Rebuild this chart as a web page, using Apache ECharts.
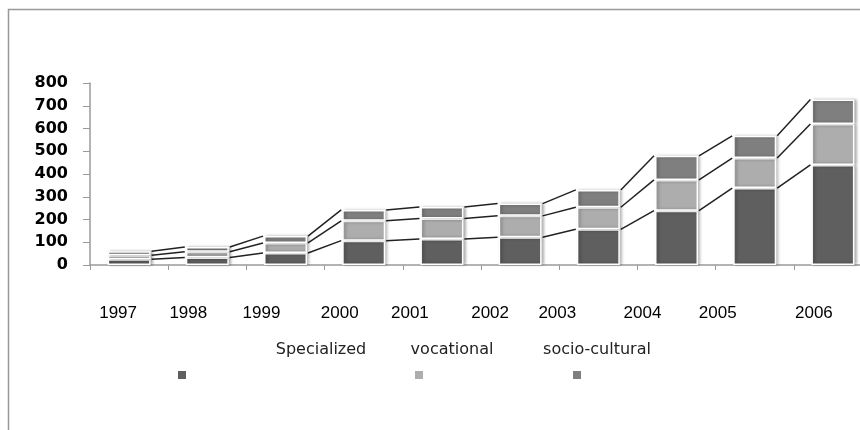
<!DOCTYPE html>
<html>
<head>
<meta charset="utf-8">
<script src="https://cdn.jsdelivr.net/npm/echarts@6/dist/echarts.min.js"></script>
<style>
html,body{margin:0;padding:0;background:#fff;}
#chart{width:860px;height:430px;}
</style>
</head>
<body>
<div id="chart"></div>
<script>
// ---- data ----
const years = ['1997','1998','1999','2000','2001','2002','2003','2004','2005','2006'];
const specialized   = [25, 33, 53, 107, 114, 122, 157, 239, 338, 440];
const vocational    = [18, 25, 44,  87,  90,  94,  97, 135, 132, 180];
const socioCultural = [17, 21, 30,  48,  51,  54,  76, 106,  98, 107];
const seriesNames = ['Specialized', 'vocational', 'socio-cultural'];
const yMin = 0, yMax = 800, yStep = 100;

// ---- style ----
const colors = ['#5f5f5f', '#adadad', '#7f7f7f'];
const labelShift = [11, 19, 24, 24, 32, 30, 41, 34, 37, 19]; // px shift of year labels to the left

const cum1 = specialized.map(v => v);
const cum2 = specialized.map((v, i) => v + vocational[i]);
const cum3 = cum2.map((v, i) => v + socioCultural[i]);
const seriesLineData = [];
for (let i = 0; i < years.length - 1; i++) {
  seriesLineData.push([i, cum1[i], cum1[i+1], cum2[i], cum2[i+1], cum3[i], cum3[i+1]]);
}
const BAR_FRAC = 0.55;

const rich = {};
labelShift.forEach((s, i) => { rich['p' + i] = {padding: [0, 2 * s, 0, 0], fontFamily: 'Liberation Sans', fontSize: 17, color: '#000'}; });

const barStyle = c => ({
  color: c, borderColor: '#ffffff', borderWidth: 1.5,
  shadowColor: 'rgba(0,0,0,0.3)', shadowBlur: 3, shadowOffsetX: 2
});

const legendFont = '16px DejaVu Sans, sans-serif';

const chart = echarts.init(document.getElementById('chart'), null, {renderer: 'canvas'});
chart.setOption({
  animation: false,
  backgroundColor: '#fff',
  grid: {left: 90, width: 782, top: 83, bottom: 165, containLabel: false, outerBoundsMode: 'none'},
  xAxis: {
    type: 'category', data: years, boundaryGap: true,
    axisLine: {show: true, lineStyle: {color: '#9a9a9a', width: 1.5}},
    axisTick: {show: true, length: 5, alignWithLabel: false, lineStyle: {color: '#9a9a9a'}},
    axisLabel: {
      interval: 0, margin: 40,
      formatter: (v, i) => '{p' + i + '|' + v + '}',
      rich: rich
    },
    splitLine: {show: false}
  },
  yAxis: {
    type: 'value', min: yMin, max: yMax, interval: yStep,
    axisLine: {show: true, lineStyle: {color: '#9a9a9a', width: 1.5}},
    axisTick: {show: true, length: 7, lineStyle: {color: '#9a9a9a'}},
    axisLabel: {margin: 22, fontFamily: 'DejaVu Sans', fontWeight: 'bold', fontSize: 16, color: '#000'},
    splitLine: {show: false}
  },
  legend: [
    {data: [seriesNames[0]], left: 176, top: 369},
    {data: [seriesNames[1]], left: 413, top: 369},
    {data: [seriesNames[2]], left: 571, top: 369}
  ].map(l => Object.assign(l, {
    icon: 'rect', itemWidth: 10, itemHeight: 10, formatter: () => '', selectedMode: false,
    padding: 0, textStyle: {fontSize: 1}
  })),
  graphic: [
    {type: 'rect', left: 6, top: 7, shape: {x: 0, y: 0, width: 1000, height: 1000},
     style: {fill: 'none', stroke: '#999', lineWidth: 1.5}, silent: true},
    {type: 'text', x: 321, y: 350, style: {text: seriesNames[0], fill: '#222', font: legendFont, textAlign: 'center', textVerticalAlign: 'middle'}},
    {type: 'text', x: 452, y: 350, style: {text: seriesNames[1], fill: '#222', font: legendFont, textAlign: 'center', textVerticalAlign: 'middle'}},
    {type: 'text', x: 597, y: 350, style: {text: seriesNames[2], fill: '#222', font: legendFont, textAlign: 'center', textVerticalAlign: 'middle'}}
  ],
  series: [
    {name: seriesNames[0], type: 'bar', stack: 'total', data: specialized, barWidth: (BAR_FRAC * 100) + '%', itemStyle: barStyle(colors[0])},
    {name: seriesNames[1], type: 'bar', stack: 'total', data: vocational, barWidth: (BAR_FRAC * 100) + '%', itemStyle: barStyle(colors[1])},
    {name: seriesNames[2], type: 'bar', stack: 'total', data: socioCultural, barWidth: (BAR_FRAC * 100) + '%', itemStyle: barStyle(colors[2])},
    {
      name: 'series lines', type: 'custom', data: seriesLineData, clip: false, silent: true,
      encode: {x: 0, y: 1},
      renderItem: function (params, api) {
        const i = api.value(0);
        const half = api.size([1, 0])[0] * BAR_FRAC / 2;
        const children = [];
        for (let k = 0; k < 3; k++) {
          const p0 = api.coord([i, api.value(1 + 2 * k)]);
          const p1 = api.coord([i + 1, api.value(2 + 2 * k)]);
          children.push({type: 'line', shape: {x1: p0[0] + half + 1, y1: p0[1], x2: p1[0] - half - 1, y2: p1[1]},
            style: {stroke: '#222', lineWidth: 1.5}});
        }
        return {type: 'group', children: children};
      }
    }
  ]
});
</script>
</body>
</html>
